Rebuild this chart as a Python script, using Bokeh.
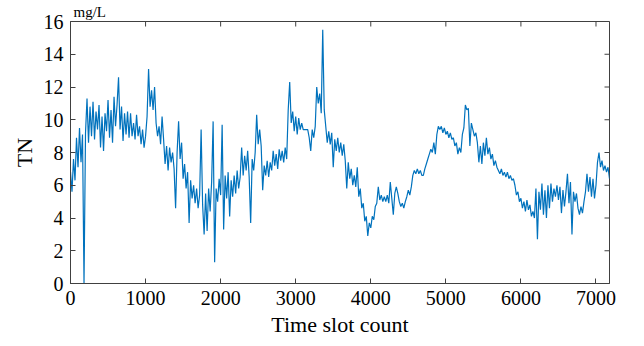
import math
from bokeh.plotting import figure
from bokeh.models import Range1d, FixedTicker
from bokeh.embed import file_html
from bokeh.resources import INLINE

slot_step = 20
tn_values = [
    6.8, 5.6, 7.6, 6.3, 8.9, 7.1, 9.5, 7.4, 9.1, 0.0,
    9.2, 11.3, 8.6, 10.8, 9.0, 11.1, 8.8, 10.5, 9.4, 10.9,
    8.3, 10.2, 8.1, 10.4, 9.3, 11.2, 8.9, 10.6, 8.6, 11.4,
    9.6, 10.9, 12.6, 9.4, 10.8, 8.7, 10.4, 9.1, 10.5, 8.9,
    10.4, 9.0, 9.8, 8.8, 10.3, 9.0, 9.6, 8.5, 9.4, 8.3,
    9.0, 10.2, 13.1, 10.8, 11.8, 10.6, 12.0, 9.8, 9.0, 9.6,
    8.5, 10.2, 8.8, 7.3, 8.4, 6.9, 8.3, 7.4, 8.0, 7.0,
    4.6, 8.0, 9.9, 7.6, 8.6, 6.4, 7.3, 5.8, 6.8, 3.7,
    6.3, 5.2, 6.0, 4.9, 5.8, 4.6, 5.4, 9.4, 4.8, 3.0,
    5.5, 3.2, 5.8, 4.4, 6.2, 9.9, 1.3, 5.8, 5.0, 6.4,
    5.4, 9.7, 3.3, 6.6, 5.2, 6.8, 4.1, 6.3, 5.3, 6.6,
    5.5, 6.9, 5.8, 6.5, 8.3, 6.6, 7.8, 6.9, 8.1, 6.5,
    3.7, 7.6, 6.9, 8.0, 10.3, 8.5, 9.4, 8.4, 5.7, 7.2,
    6.6, 7.5, 6.5, 7.4, 6.9, 8.1, 7.2, 7.9, 7.0, 8.2,
    7.5, 8.1, 7.4, 8.3, 7.6, 10.6, 12.3, 9.8, 10.5, 9.3,
    10.2, 9.1, 10.1, 9.4, 9.8, 9.4, 9.4, 9.4, 9.4, 8.9,
    8.1, 9.4, 8.9, 9.6, 12.0, 11.0, 11.6, 10.4, 15.5, 10.6,
    9.6, 8.6, 9.3, 8.5, 9.2, 7.1, 8.8, 8.1, 8.9, 8.0,
    8.6, 7.8, 8.5, 7.5, 5.8, 7.4, 6.4, 7.0, 6.0, 6.6,
    5.9, 7.1, 5.3, 5.8, 4.6, 4.9, 3.8, 4.1, 2.9, 3.7,
    3.4, 4.1, 3.9, 4.7, 4.9, 5.9, 5.1, 5.4, 5.0, 5.3,
    5.0, 5.4, 4.9, 6.2, 5.2, 4.2, 5.5, 5.9, 5.5, 5.0,
    4.7, 4.9, 4.6, 5.0, 5.3, 5.7, 5.4, 5.9, 6.6, 6.9,
    6.7, 7.0, 6.7, 6.9, 6.6, 6.6, 7.0, 7.3, 7.6, 7.9,
    8.2, 8.0, 8.6, 7.9, 9.1, 9.6, 9.4, 9.6, 9.2, 9.5,
    9.1, 9.3, 8.9, 9.2, 8.8, 8.9, 8.4, 8.6, 7.9, 8.3,
    8.0, 9.1, 9.5, 10.9, 10.6, 10.7, 8.4, 9.8, 9.4, 9.0,
    9.2, 8.6, 7.4, 8.4, 7.3, 8.6, 7.8, 8.9, 7.9, 8.3,
    7.6, 7.9, 7.2, 7.5, 7.1, 6.9, 6.7, 7.0, 6.6, 6.8,
    6.5, 6.8, 6.4, 6.6, 6.3, 6.4, 6.0, 5.4, 5.6, 5.0,
    5.2, 4.6, 5.0, 4.4, 5.1, 4.5, 4.8, 4.1, 4.4, 4.0,
    5.8, 2.7, 5.6, 4.5, 6.1, 4.2, 5.7, 4.0, 6.0, 4.6,
    6.1, 5.0, 5.8, 5.3, 6.0, 5.1, 5.9, 4.3, 5.7, 4.7,
    5.6, 6.7, 4.9, 6.2, 3.0, 5.6, 5.0, 5.5, 4.6, 4.2,
    4.7, 4.3, 5.0, 5.6, 6.7, 5.6, 6.5, 5.3, 6.4, 5.2,
    6.0, 7.4, 8.0, 7.1, 7.5, 6.9, 7.2, 6.8, 7.1, 6.4,
]
slots = [i * slot_step for i in range(len(tn_values))]
x_ticks = [0, 1000, 2000, 3000, 4000, 5000, 6000, 7000]
y_ticks = [0, 2, 4, 6, 8, 10, 12, 14, 16]
x_max = 7180
y_max = 16

FONT = "'Liberation Serif', 'Times New Roman', serif"
AXC = "#404040"

p = figure(width=644, height=346, output_backend="svg", toolbar_location=None,
           x_range=Range1d(0, x_max), y_range=Range1d(0, y_max),
           title="mg/L",
           min_border_left=70, min_border_right=35, min_border_top=20, min_border_bottom=63)
p.line(slots, tn_values, line_color="#0072BD", line_width=1.2)

# mirrored inward ticks on the top and right edges of the box
p.scatter(x_ticks, [y_max] * len(x_ticks), marker="dash", angle=math.pi / 2,
          size=10, line_color=AXC, line_width=1)
p.scatter([x_max] * len(y_ticks), y_ticks, marker="dash", angle=0,
          size=10, line_color=AXC, line_width=1)

p.title.text_font = FONT
p.title.text_font_size = "15px"
p.title.text_font_style = "normal"
p.title.text_color = "black"
p.title.align = "left"
p.title.offset = 3
p.title.standoff = 3

p.grid.visible = False
p.outline_line_color = AXC
p.background_fill_color = "white"
p.border_fill_color = "white"

xa = p.xaxis[0]
ya = p.yaxis[0]
xa.ticker = FixedTicker(ticks=x_ticks)
ya.ticker = FixedTicker(ticks=y_ticks)
for ax in (xa, ya):
    ax.axis_line_color = AXC
    ax.major_tick_line_color = AXC
    ax.major_tick_in = 5
    ax.major_tick_out = 0
    ax.minor_tick_line_color = None
    ax.major_label_text_font = FONT
    ax.major_label_text_font_size = "20px"
    ax.major_label_text_color = "black"
    ax.axis_label_text_font = FONT
    ax.axis_label_text_font_style = "normal"
    ax.axis_label_text_color = "black"
xa.major_label_standoff = 7
ya.major_label_standoff = 7
xa.axis_label = "Time slot count"
ya.axis_label = "TN"
xa.axis_label_text_font_size = "22px"
ya.axis_label_text_font_size = "22px"
xa.axis_label_standoff = 4
ya.axis_label_standoff = 4

open("out.html", "w").write(file_html(p, INLINE))
